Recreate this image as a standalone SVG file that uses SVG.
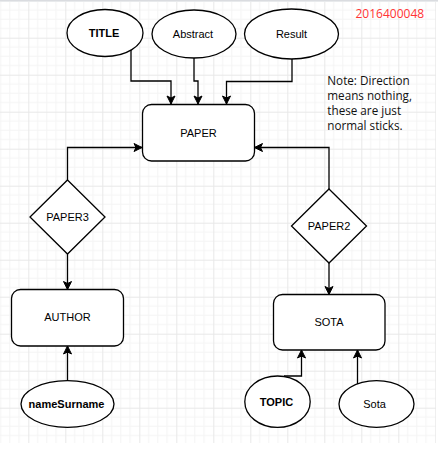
<svg xmlns="http://www.w3.org/2000/svg" width="438" height="453" viewBox="0 0 438 453">
<style>
.shape{fill:#fff;stroke:#000;stroke-width:1.3}
.lbl{font-family:"Liberation Sans",Arial,sans-serif;font-size:11px;fill:#000;text-anchor:middle}
.b{font-weight:bold}
.edge{fill:none;stroke:#000;stroke-width:1.3}
.note{font-family:"Open Sans","Noto Sans",sans-serif;font-size:11.7px;fill:#111}
</style>
<defs>
<pattern id="grid" patternUnits="userSpaceOnUse" x="28.3" y="0.7" width="37" height="37">
<path d="M9.25 0V37M18.5 0V37M27.75 0V37M0 9.25H37M0 18.5H37M0 27.75H37" stroke="#f4f4f4" stroke-width="1" fill="none"/>
<path d="M0.5 0V37M0 0.5H37" stroke="#e8e8e8" stroke-width="1" fill="none"/>
</pattern>
<marker id="arr" markerUnits="userSpaceOnUse" markerWidth="10" markerHeight="10" viewBox="0 0 10 10" refX="9" refY="5" orient="auto">
<path d="M1,1 L9,5 L1,9 L3,5 Z" fill="#000" stroke="#000" stroke-width="1"/>
</marker>
</defs>
<rect x="0" y="0" width="438" height="453" fill="#fff"/>
<rect x="0" y="2" width="436" height="441" fill="url(#grid)"/>
<rect x="0" y="0" width="438" height="1.6" fill="#dadce0"/>

<g id="connectors">
<path class="edge" d="M131,50 V81 H171 V104" marker-end="url(#arr)"/>
<path class="edge" d="M194,58 V81 H198 V104" marker-end="url(#arr)"/>
<path class="edge" d="M292,59 V81.5 H226.5 V104" marker-end="url(#arr)"/>
<path class="edge" d="M67.5,180 V147.5 H142" marker-end="url(#arr)"/>
<path class="edge" d="M67.5,254 V289.5" marker-end="url(#arr)"/>
<path class="edge" d="M67.5,381 V346" marker-end="url(#arr)"/>
<path class="edge" d="M329,189 V147.5 H254.5" marker-end="url(#arr)"/>
<path class="edge" d="M329,263 V294.5" marker-end="url(#arr)"/>
<path class="edge" d="M284,376 H301.5 V350" marker-end="url(#arr)"/>
<path class="edge" d="M357.5,384 V350" marker-end="url(#arr)"/>
</g>

<g id="title">
<ellipse class="shape" cx="105" cy="33" rx="38" ry="23.5"/>
<text class="lbl b" x="104" y="37">TITLE</text>
</g>
<g id="abstract">
<ellipse class="shape" cx="194" cy="34" rx="42" ry="24"/>
<text class="lbl" x="193" y="38">Abstract</text>
</g>
<g id="result">
<ellipse class="shape" cx="291.5" cy="34" rx="47" ry="25"/>
<text class="lbl" x="291.5" y="38">Result</text>
</g>
<g id="paper">
<rect class="shape" x="142.5" y="104.5" width="112" height="56.5" rx="9"/>
<text class="lbl" x="198.5" y="136.5">PAPER</text>
</g>
<g id="paper3">
<polygon class="shape" points="67.5,180 105,217 67.5,254 30,217"/>
<text class="lbl" x="67.5" y="221">PAPER3</text>
</g>
<g id="paper2">
<polygon class="shape" points="329,189 366.5,226 329,263 291.5,226"/>
<text class="lbl" x="329" y="230">PAPER2</text>
</g>
<g id="author">
<rect class="shape" x="11.5" y="289.5" width="112" height="56.5" rx="9"/>
<text class="lbl" x="67.5" y="321">AUTHOR</text>
</g>
<g id="sota-box">
<rect class="shape" x="273.5" y="294.5" width="111.5" height="55.5" rx="9"/>
<text class="lbl" x="329" y="326">SOTA</text>
</g>
<g id="namesurname">
<ellipse class="shape" cx="67.5" cy="404" rx="46.5" ry="23.3"/>
<text class="lbl b" x="66.5" y="407.5">nameSurname</text>
</g>
<g id="topic">
<ellipse class="shape" cx="277.5" cy="401.7" rx="32.7" ry="25.7"/>
<text class="lbl b" x="276.5" y="405.5">TOPIC</text>
</g>
<g id="sota">
<ellipse class="shape" cx="376.5" cy="404" rx="37.5" ry="23.3"/>
<text class="lbl" x="374.5" y="408">Sota</text>
</g>

<g id="id-label">
<text x="355.5" y="17.5" font-family="'Open Sans','Noto Sans',sans-serif" font-size="12px" fill="#ff3333">2016400048</text>
</g>
<g id="note">
<text class="note" x="327.3" y="85">Note: Direction</text>
<text class="note" x="327.3" y="100">means nothing,</text>
<text class="note" x="327.3" y="114.8">these are just</text>
<text class="note" x="327.3" y="129.5">normal sticks.</text>
</g>
</svg>
